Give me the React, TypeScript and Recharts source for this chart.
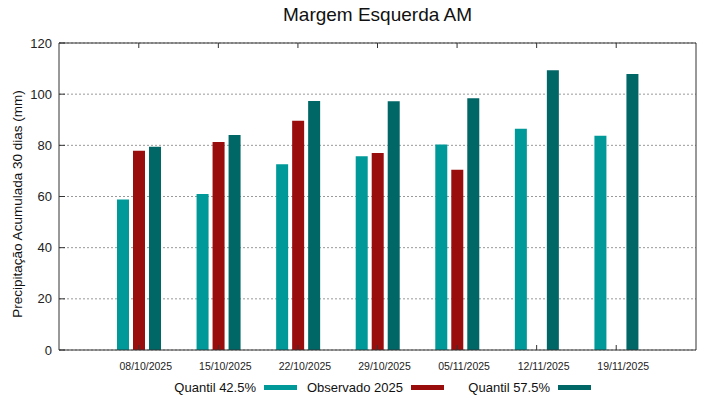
import React from "react";
import { Bar, BarChart, CartesianGrid, XAxis, YAxis } from "recharts";

const datas = ["08/10/2025", "15/10/2025", "22/10/2025", "29/10/2025", "05/11/2025", "12/11/2025", "19/11/2025"];
const quantil425 = [58.8, 61.0, 72.6, 75.7, 80.3, 86.5, 83.7];
const observado2025: Array<number | null> = [77.9, 81.3, 89.6, 77.0, 70.5, null, null];
const quantil575 = [79.4, 84.0, 97.3, 97.2, 98.4, 109.3, 107.9];
const yTicks = [0, 20, 40, 60, 80, 100, 120];

const series = [
  { key: "q425", nome: "Quantil 42.5%", cor: "#009999" },
  { key: "obs", nome: "Observado 2025", cor: "#990d0d" },
  { key: "q575", nome: "Quantil 57.5%", cor: "#006666" },
];

const data = datas.map((d, i) => ({
  data: d,
  q425: quantil425[i],
  obs: observado2025[i],
  q575: quantil575[i],
}));

const fonte = '"Liberation Sans", Arial, Helvetica, sans-serif';
const borda = "#333333";

export default function App() {
  return (
    <div style={{ position: "absolute", left: 0, top: 0, width: 719, height: 399, background: "#fff", fontFamily: fonte }}>
      <BarChart
        width={719}
        height={399}
        data={data}
        margin={{ top: 42, right: 22, bottom: 19, left: 0 }}
        barSize={12}
        barGap={4}
        style={{ fontFamily: fonte }}
      >
        <CartesianGrid vertical={false} stroke="#999" strokeDasharray="2 2" />
        <XAxis
          dataKey="data"
          height={30}
          padding={{ left: 40, right: 40 }}
          stroke={borda}
          tickSize={-5}
          tickMargin={18}
          tick={{ fontSize: 10.5, fill: "#222", dx: 7 }}
          interval={0}
        />
        <XAxis
          xAxisId="top"
          orientation="top"
          dataKey="data"
          height={1}
          padding={{ left: 40, right: 40 }}
          stroke={borda}
          tickSize={-5}
          tickMargin={0}
          tick={{ fontSize: 1, fill: "none" }}
          interval={0}
        />
        <YAxis
          width={59}
          domain={[0, 120]}
          ticks={yTicks}
          stroke={borda}
          tickSize={-6}
          tickMargin={13}
          tick={{ fontSize: 13, fill: "#222" }}
        />
        <YAxis
          yAxisId="right"
          orientation="right"
          width={1}
          domain={[0, 120]}
          ticks={yTicks}
          stroke={borda}
          tickSize={-6}
          tickMargin={0}
          tick={{ fontSize: 1, fill: "none" }}
        />
        {series.map((s) => (
          <Bar key={s.key} dataKey={s.key} name={s.nome} fill={s.cor} isAnimationActive={false} />
        ))}
      </BarChart>
      <svg width={719} height={399} style={{ position: "absolute", left: 0, top: 0, pointerEvents: "none" }}>
        <text x={377.5} y={21} textAnchor="middle" fontSize={19} fill="#111" fontFamily={fonte}>
          Margem Esquerda AM
        </text>
        <text
          x={17}
          y={204}
          transform="rotate(-90, 17, 204)"
          textAnchor="middle"
          dominantBaseline="central"
          fontSize={13.5}
          fill="#111"
          fontFamily={fonte}
        >
          Precipitação Acumulada 30 dias (mm)
        </text>
      </svg>
      <div style={{ position: "absolute", left: 150, top: 378, display: "flex", fontSize: 13, color: "#111" }}>
        {series.map((s) => (
          <div key={s.key} style={{ width: 147, display: "flex", alignItems: "center", height: 18 }}>
            <span style={{ flex: 1, textAlign: "right", whiteSpace: "nowrap" }}>{s.nome}</span>
            <span style={{ width: 33, height: 5, background: s.cor, marginLeft: 8 }} />
          </div>
        ))}
      </div>
    </div>
  );
}
